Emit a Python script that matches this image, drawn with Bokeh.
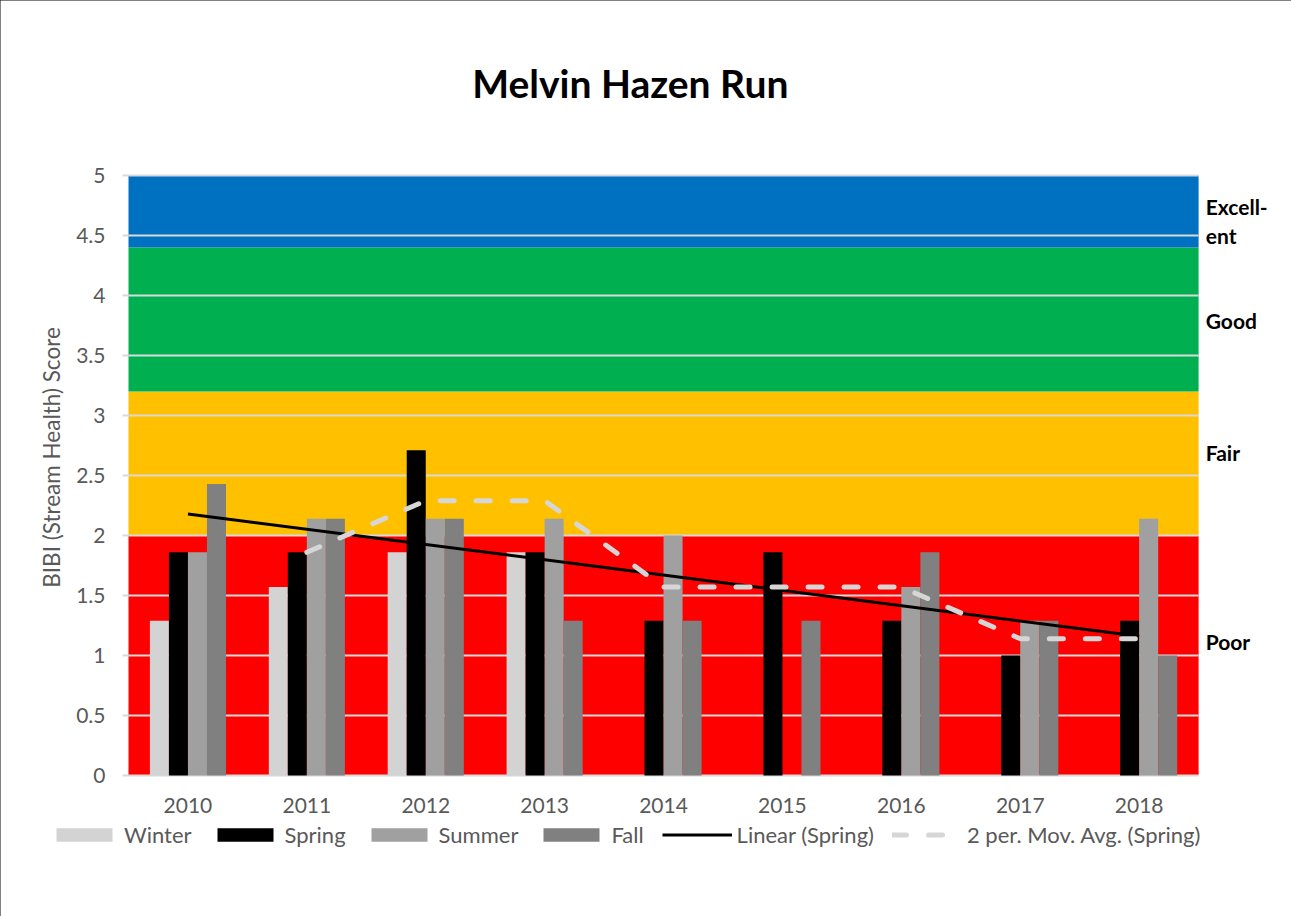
import math
from bokeh.plotting import figure
from bokeh.models import (ColumnDataSource, Legend, LegendItem, Label, Range1d,
                          SingleIntervalTicker, FixedTicker, CustomJSTickFormatter)
from bokeh.transform import dodge
from bokeh.embed import file_html
from bokeh.resources import INLINE

# ---------------- data ----------------
years = ["2010", "2011", "2012", "2013", "2014", "2015", "2016", "2017", "2018"]
winter = [1.29, 1.57, 1.86, 1.86, None, None, None, None, None]
spring = [1.86, 1.86, 2.71, 1.86, 1.29, 1.86, 1.29, 1.00, 1.29]
summer = [1.86, 2.14, 2.14, 2.14, 2.00, None, 1.57, 1.29, 2.14]
fall = [2.43, 2.14, 2.14, 1.29, 1.29, 1.29, 1.86, 1.29, 1.00]
mov_avg = [None, 1.86, 2.29, 2.29, 1.57, 1.57, 1.57, 1.14, 1.14]
trend_years = ["2010", "2018"]
trend_vals = [2.18, 1.16]

band_names = ["Poor", "Fair", "Good", "Excell-\nent"]
band_low = [0, 2.0, 3.2, 4.4]
band_high = [2.0, 3.2, 4.4, 5.0]
band_label_y = [1.12, 2.69, 3.79, 4.62]
band_colors = ["#FF0000", "#FFC000", "#00B050", "#0070C0"]

series_names = ["Winter", "Spring", "Summer", "Fall"]
series_vals = [winter, spring, summer, fall]
series_colors = ["#D3D3D3", "#000000", "#A0A0A0", "#808080"]
offsets = [-0.24, -0.08, 0.08, 0.24]
trend_name = "Linear (Spring)"
ma_name = "2 per. Mov. Avg. (Spring)"
y_title = "BIBI (Stream Health) Score"
chart_title = "Melvin Hazen Run"

y_max = 5.0
FONT = "Lato"
GRAY = "#595959"
MA_COLOR = "#D6D6D6"

n = len(years)
W, H = 1291, 916
PLOT_LEFT, PLOT_BOTTOM = 128, 775      # pixel position of the data origin
px_per_x = 118.9
px_per_y = 120.0

# ---------------- figure (frame spans the whole canvas) ----------------
p = figure(width=W, height=H,
           x_range=Range1d(-PLOT_LEFT / px_per_x, (W - PLOT_LEFT) / px_per_x),
           y_range=Range1d(-(H - PLOT_BOTTOM) / px_per_y, PLOT_BOTTOM / px_per_y),
           output_backend="svg", toolbar_location=None, min_border=0)
p.outline_line_color = None
p.styles = {"outline": "2px solid black", "outline-offset": "-2px"}

# bands (below grid lines)
band_src = ColumnDataSource(dict(left=[0] * len(band_low), right=[n] * len(band_low),
                                 bottom=band_low, top=band_high, color=band_colors))
br = p.quad(left="left", right="right", bottom="bottom", top="top", fill_color="color",
            line_color=None, source=band_src)
br.level = "image"

# bars
items = []
for name, vals, col, off in zip(series_names, series_vals, series_colors, offsets):
    xs = [i + 0.5 for i, v in enumerate(vals) if v is not None]
    vs = [v for v in vals if v is not None]
    src = ColumnDataSource(dict(xc=xs, val=vs))
    r = p.vbar(x=dodge("xc", off), top="val", width=0.16, bottom=0,
               fill_color=col, line_color=None, source=src)
    items.append(LegendItem(label=name, renderers=[r]))

# trend line
r = p.line(x=[years.index(y) + 0.5 for y in trend_years], y=trend_vals,
           line_color="black", line_width=3)
items.append(LegendItem(label=trend_name, renderers=[r]))

# moving average
ma_x = [i + 0.5 for i, v in enumerate(mov_avg) if v is not None]
ma_y = [v for v in mov_avg if v is not None]
r = p.line(x=ma_x, y=ma_y, line_color=MA_COLOR, line_width=5, line_dash="14 22",
           line_cap="round")
items.append(LegendItem(label=ma_name, renderers=[r]))

# axes / grid (axes drawn at the data origin, inside the canvas)
p.xgrid.grid_line_color = None
p.ygrid.grid_line_color = "#D9D9D9"
p.ygrid.grid_line_width = 2
try:
    p.ygrid.cross_bounds = (0, n)
except Exception:
    pass

yax = p.yaxis[0]
yax.fixed_location = 0
yax.bounds = (0, y_max)
yax.ticker = SingleIntervalTicker(interval=0.5, num_minor_ticks=0)
yax.formatter = CustomJSTickFormatter(code="return String(tick)")
yax.axis_line_color = None
yax.major_tick_in = 0
yax.major_tick_out = 6
yax.major_tick_line_color = "#D9D9D9"
yax.major_tick_line_width = 2
yax.minor_tick_line_color = None
yax.major_label_standoff = 17

xax = p.xaxis[0]
xax.fixed_location = 0
xax.bounds = (0, n)
xax.ticker = FixedTicker(ticks=[i + 0.5 for i in range(n)])
xax.formatter = CustomJSTickFormatter(args=dict(years=years),
                                      code="return years[Math.floor(tick)]")
xax.axis_line_color = None
xax.major_tick_line_color = None
xax.minor_tick_line_color = None
xax.major_label_standoff = 16

for ax in (xax, yax):
    ax.major_label_text_font = FONT
    ax.major_label_text_font_size = "21px"
    ax.major_label_text_color = GRAY

# y axis title
p.add_layout(Label(x=-0.648, y=2.65, text=y_title, angle=math.pi / 2, text_font=FONT,
                   text_font_size="22.5px", text_color=GRAY, text_align="center",
                   text_baseline="middle"))

# band labels
for name, yy in zip(band_names, band_label_y):
    p.add_layout(Label(x=n + 0.06, y=yy, text=name, text_font=FONT, text_font_size="21px",
                       text_font_style="bold", text_color="black", text_align="left",
                       text_baseline="middle", text_line_height=1.15))

# title
p.add_layout(Label(x=4.22, y=5.77, text=chart_title, text_font=FONT,
                   text_font_size="39px", text_font_style="bold", text_color="black",
                   text_align="center", text_baseline="middle"))

# legend (location in pixels from the canvas bottom-left)
legend = Legend(items=items, orientation="horizontal", location=(49, 68),
                glyph_width=70, glyph_height=17, label_standoff=5, spacing=18,
                padding=0, margin=0, border_line_color=None, background_fill_alpha=0,
                label_text_font=FONT, label_text_font_size="22px", label_text_color=GRAY)
p.add_layout(legend, "center")

open("out.html", "w").write(file_html(p, INLINE))
